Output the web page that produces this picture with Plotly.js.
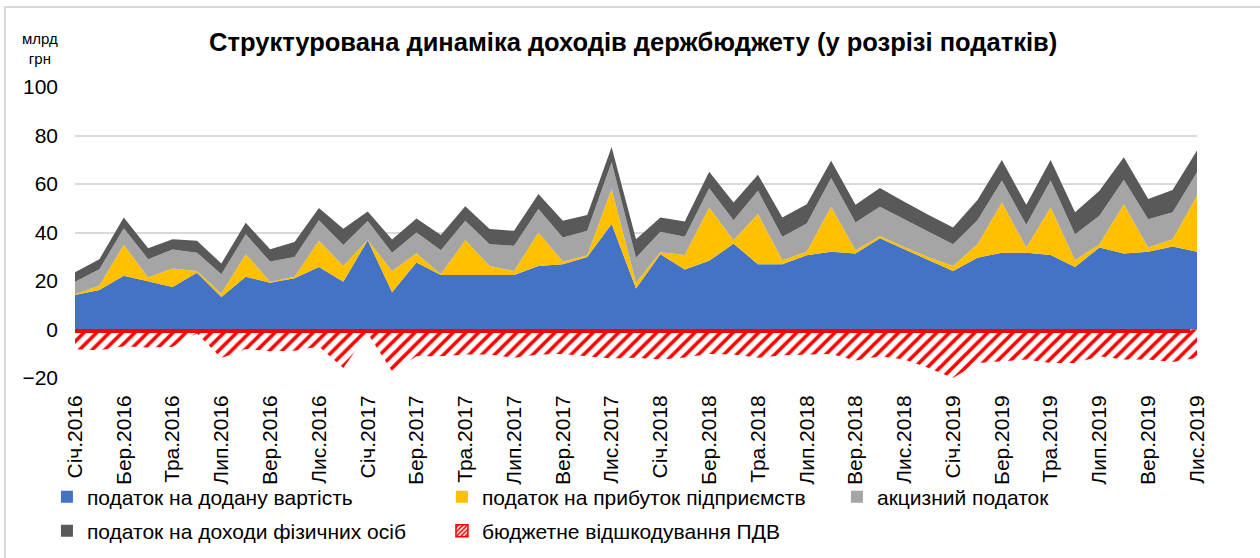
<!DOCTYPE html>
<html>
<head>
<meta charset="utf-8">
<script src="https://cdn.plot.ly/plotly-3.0.1.min.js"></script>
<style>
  html, body { margin:0; padding:0; background:#fff; }
  #wrap { position:relative; width:1260px; height:558px; overflow:hidden; }
  #chart { position:absolute; left:0; top:0; width:1260px; height:558px; }
  #frame { position:absolute; left:4px; top:6px; width:1300px; height:600px;
           border-left:2px solid #d9d9d9; border-top:2px solid #d9d9d9; pointer-events:none; }
</style>
</head>
<body>
<div id="wrap">
  <div id="chart"></div>
  <div id="frame"></div>
</div>
<script>
// ---- data (млрд грн), monthly Jan 2016 – Nov 2019 ----
const monthNames = ["Січ","Лют","Бер","Кві","Тра","Чер","Лип","Сер","Вер","Жов","Лис","Гру"];
const years = [2016, 2017, 2018, 2019];
const nMonths = 47;

// податок на додану вартість
const vat = [14.2,16.3,22.2,19.7,17.5,23.4,13.4,21.8,19.3,21.1,25.8,19.7,
             36.8,15.4,27.6,22.5,22.5,22.8,22.5,26.2,26.9,29.9,43.5,16.9,
             31.0,24.7,28.3,35.4,26.9,26.9,30.6,32.1,31.3,37.6,33.0,28.5,
             24.1,29.6,31.7,31.7,30.7,25.8,33.8,31.3,32.1,34.2,32.1];
// податок на прибуток підприємств
const cit = [0.3,1.8,12.7,1.7,7.7,0.7,1.4,9.2,0.4,0.7,10.8,6.5,
             0.1,8.7,3.8,0.3,14.3,3.4,1.6,13.8,1.1,0.7,14.4,2.4,
             0.9,6.0,22.0,1.4,20.7,1.7,1.5,18.5,1.4,1.0,1.0,1.3,
             2.1,5.6,20.7,2.1,19.6,2.8,1.4,20.4,1.7,3.0,23.1];
// акцизний податок
const excise = [5.2,6.7,6.9,7.6,7.8,7.6,8.0,8.3,8.3,8.1,8.5,8.6,
                7.8,7.6,8.6,9.9,8.0,9.0,10.4,9.7,9.9,10.1,11.1,10.3,
                8.4,7.5,7.9,8.3,9.6,9.6,11.6,11.9,11.4,12.0,11.5,10.5,
                9.0,9.9,9.0,9.4,11.1,10.7,11.7,10.1,11.7,11.1,9.6];
// податок на доходи фізичних осіб
const pit = [3.9,4.2,4.4,4.5,4.2,4.9,4.4,4.7,5.1,6.2,5.0,6.7,
             4.0,5.4,5.8,6.3,6.0,6.2,6.2,6.2,6.9,6.5,6.3,7.6,
             5.9,6.3,6.9,7.3,6.6,8.0,8.0,7.1,7.3,7.7,7.2,6.9,
             6.9,8.3,8.5,8.2,8.5,9.0,10.3,9.2,8.3,9.2,9.0];
// бюджетне відшкодування ПДВ
const refund = [-8.1,-8.6,-6.9,-7.4,-7.1,-1.6,-11.8,-8.0,-9.0,-8.8,-7.0,-15.9,
                -1.7,-17.2,-11.0,-11.0,-10.3,-10.3,-11.7,-10.3,-10.1,-11.0,-12.0,-11.7,
                -12.4,-11.5,-10.1,-10.3,-11.7,-10.6,-10.5,-10.1,-12.8,-11.0,-12.4,-15.9,
                -20.0,-13.8,-13.1,-12.4,-13.8,-13.8,-11.0,-12.4,-12.4,-13.4,-11.7];

const seriesNames = ["податок на додану вартість","податок на прибуток підприємств",
                     "акцизний податок","податок на доходи фізичних осіб",
                     "бюджетне відшкодування ПДВ"];
const seriesColors = ["#4472C4","#FFC000","#A5A5A5","#595959","#FF0000"];

const categories = [];
years.forEach(y => monthNames.forEach(m => { if (categories.length < nMonths) categories.push(m + "." + y); }));
const tickCats = categories.filter((c, i) => i % 2 === 0);

const FONT = "Liberation Sans, Arial, sans-serif";

const stackVals = [vat, cit, excise, pit];
const traces = [];
stackVals.forEach((vals, k) => {
  traces.push({
    type: "scatter", mode: "lines", x: categories, y: vals,
    stackgroup: "pos", line: {width: 0, color: seriesColors[k]},
    fillcolor: seriesColors[k], showlegend: false, hoverinfo: "skip"
  });
});
traces.push({
  type: "scatter", mode: "lines", x: categories, y: refund,
  fill: "tozeroy", line: {width: 0, color: "#FF0000"},
  fillcolor: "rgba(255,255,255,0)",
  fillpattern: {shape: "/", fgcolor: "#FF0000", bgcolor: "#FFFFFF", size: 9, solidity: 0.4},
  showlegend: false, hoverinfo: "skip"
});
// legend entries (square keys)
seriesNames.forEach((name, k) => {
  const t = {
    type: "bar", x: [null], y: [null], name: name,
    marker: {color: seriesColors[k], line: {width: 0}},
    legend: k < 3 ? "legend" : "legend2", hoverinfo: "skip"
  };
  if (k === 4) {
    t.marker = {color: "#FFFFFF", line: {width: 1.5, color: "#FF0000"},
                pattern: {shape: "/", fgcolor: "#FF0000", bgcolor: "#FFFFFF", size: 4, solidity: 0.5}};
  }
  traces.push(t);
});

const legendCommon = {
  orientation: "h", xanchor: "left", yanchor: "middle",
  font: {family: FONT, size: 21, color: "#000"},
  bgcolor: "rgba(0,0,0,0)", entrywidth: 350, entrywidthmode: "pixels",
  traceorder: "normal", itemclick: false, itemdoubleclick: false
};

const layout = {
  width: 1260, height: 558,
  margin: {l: 75, r: 63, t: 87, b: 180, autoexpand: false},
  paper_bgcolor: "#fff", plot_bgcolor: "#fff",
  font: {family: FONT, color: "#000"},
  title: {
    text: "<b>Структурована динаміка доходів держбюджету (у розрізі податків)</b>",
    font: {family: FONT, size: 25.5, color: "#000"},
    xref: "container", x: 0.5025, xanchor: "center",
    yref: "container", y: 1 - 42/558, yanchor: "middle"
  },
  xaxis: {
    type: "category", categoryorder: "array", categoryarray: categories,
    range: [0, nMonths - 1], tickmode: "array", tickvals: tickCats, ticktext: tickCats,
    tickangle: -90, tickfont: {family: FONT, size: 21, color: "#000"},
    showgrid: false, zeroline: false, showline: false, ticks: "", ticklabelstandoff: 12,
    fixedrange: true
  },
  yaxis: {
    range: [-20, 100], dtick: 20, tick0: 0,
    tickfont: {family: FONT, size: 21, color: "#000"},
    showgrid: true, gridcolor: "#D9D9D9", gridwidth: 2,
    zeroline: false, showline: false, ticks: "", ticklabelstandoff: 16,
    fixedrange: true
  },
  shapes: [{
    type: "line", xref: "paper", x0: 0, x1: 0.994, yref: "y", y0: -0.6, y1: -0.6,
    line: {color: "#FF0000", width: 4}, layer: "above"
  }],
  annotations: [{
    text: "млрд<br>грн", xref: "paper", yref: "paper",
    x: -35/1122, y: (378-48)/291, xanchor: "center", yanchor: "middle",
    showarrow: false, font: {family: FONT, size: 15, color: "#000"}
  }],
  showlegend: true,
  legend: Object.assign({}, legendCommon, {x: -0.025, y: (378-497)/291}),
  legend2: Object.assign({}, legendCommon, {x: -0.025, y: (378-531)/291}),
  barmode: "overlay", hovermode: false
};

Plotly.newPlot("chart", traces, layout, {staticPlot: true, displayModeBar: false});
</script>
</body>
</html>
